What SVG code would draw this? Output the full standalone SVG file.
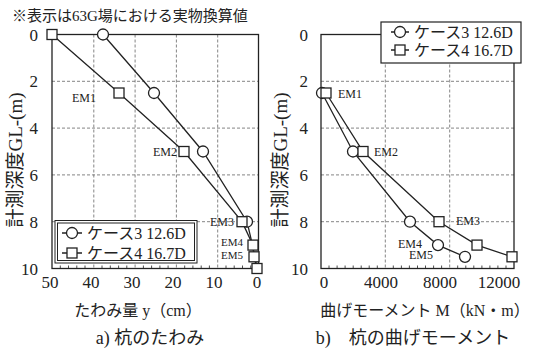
<svg xmlns="http://www.w3.org/2000/svg" width="536" height="351" viewBox="0 0 536 351">
<style>
text{font-family:"Liberation Serif","Noto Sans CJK JP",serif;fill:#222}
.frame{fill:none;stroke:#222;stroke-width:1.3}
.grid{fill:none;stroke:#666;stroke-width:0.8;stroke-dasharray:3 2}
.ser{fill:none;stroke:#222;stroke-width:1.3}
.c{fill:#fff;stroke:#222;stroke-width:1.3}
.s{fill:#fff;stroke:#222;stroke-width:1.3}
.tick{font-size:17px}
.em{font-size:12px}
.em2{font-size:11px}
.leg{font-size:16px}
.tk{stroke:#222;stroke-width:0.8}
</style>
<defs>
<circle id="mc" r="5.5" class="c"/>
<rect id="ms" x="-5" y="-5" width="10" height="10" class="s"/>
</defs>
<rect width="536" height="351" fill="#fff"/>
<text x="12" y="20.5" style="font-size:15px">※表示は63G場における実物換算値</text>

<g id="plotA">
<g id="gridA">
<path class="grid" d="M93.8 34.5V268.5M135.1 34.5V268.5M176.4 34.5V268.5M217.7 34.5V268.5M52 81.3H258.5M52 128.1H258.5M52 174.9H258.5M52 221.7H258.5"/>
</g>
<rect class="frame" x="52" y="34.5" width="206.5" height="234"/>
<path class="tk" d="M60.3 268.5v-3M68.5 268.5v-3M76.8 268.5v-3M85.0 268.5v-3M102 268.5v-3M110.3 268.5v-3M118.6 268.5v-3M126.8 268.5v-3M143.4 268.5v-3M151.6 268.5v-3M159.9 268.5v-3M168.1 268.5v-3M184.7 268.5v-3M192.9 268.5v-3M201.2 268.5v-3M209.4 268.5v-3M226 268.5v-3M234.2 268.5v-3M242.5 268.5v-3M250.7 268.5v-3"/>
<g id="yticksA" class="tick" text-anchor="end">
<text x="38" y="40.5">0</text>
<text x="38" y="87.3">2</text>
<text x="38" y="134.1">4</text>
<text x="38" y="180.9">6</text>
<text x="38" y="227.7">8</text>
<text x="38" y="274.5">10</text>
</g>
<g id="xticksA" class="tick" text-anchor="middle">
<text x="50" y="288">50</text>
<text x="91" y="288">40</text>
<text x="132" y="288">30</text>
<text x="173" y="288">20</text>
<text x="214" y="288">10</text>
<text x="257" y="288">0</text>
</g>
<text transform="translate(22,160) rotate(-90)" text-anchor="middle" style="font-size:19px">計測深度GL-(m)</text>
<text x="138" y="316" text-anchor="middle" style="font-size:16px">たわみ量 y（cm）</text>
<text x="150" y="344" text-anchor="middle" style="font-size:18px">a) 杭のたわみ</text>

<g id="connectorsA">
<polyline class="ser" points="103,34.5 154,93 203,151.5 247,221.7 252.5,245.1 254.5,256.8 257.5,268.5"/>
<polyline class="ser" points="52,34.5 119,93 184,151.5 242,221.7 253,245.1 254,256.8 257,268.5"/>
</g>
<g id="case3A">
<use href="#mc" x="103" y="34.5"/>
<use href="#mc" x="154" y="93"/>
<use href="#mc" x="203" y="151.5"/>
<use href="#mc" x="247" y="221.7"/>
</g>
<g id="case4A">
<use href="#ms" x="52" y="34.5"/>
<use href="#ms" x="119" y="93"/>
<use href="#ms" x="184" y="151.5"/>
<use href="#ms" x="242" y="221.7"/>
<use href="#ms" x="253" y="245.1"/>
<use href="#ms" x="254" y="256.8"/>
<use href="#ms" x="257" y="268.5"/>
</g>
<g id="emA" class="em" text-anchor="end">
<text x="96" y="101.5">EM1</text>
<text x="177" y="156">EM2</text>
<text x="234" y="225.5">EM3</text>
<text class="em2" x="243" y="245.5">EM4</text>
<text class="em2" x="243" y="258.5">EM5</text>
</g>
<g id="legendA">
<rect x="55" y="220.5" width="142" height="42.5" fill="#fff" stroke="#222" stroke-width="1"/>
<rect x="57.5" y="223" width="137" height="37.5" fill="none" stroke="#222" stroke-width="1"/>
<path class="ser" d="M62 233H82M62 253H82"/>
<use href="#mc" x="72" y="233"/>
<use href="#ms" x="72" y="253"/>
<text class="leg" x="87" y="238.5">ケース3 12.6D</text>
<text class="leg" x="87" y="258.5">ケース4 16.7D</text>
</g>
</g>

<g id="plotB">
<g id="gridB">
<path class="grid" d="M385.3 34.5V268.5M449.7 34.5V268.5M321 81.3H514M321 128.1H514M321 174.9H514M321 221.7H514"/>
</g>
<rect class="frame" x="321" y="34.5" width="193" height="234"/>
<path class="tk" d="M329 268.5v-3M337.1 268.5v-3M345.1 268.5v-3M353.2 268.5v-3M361.2 268.5v-3M369.2 268.5v-3M377.3 268.5v-3M393.3 268.5v-3M401.4 268.5v-3M409.4 268.5v-3M417.5 268.5v-3M425.5 268.5v-3M433.6 268.5v-3M441.6 268.5v-3M457.7 268.5v-3M465.8 268.5v-3M473.8 268.5v-3M481.9 268.5v-3M489.9 268.5v-3M497.9 268.5v-3M506 268.5v-3"/>
<g id="yticksB" class="tick" text-anchor="end">
<text x="308" y="40.5">0</text>
<text x="308" y="87.3">2</text>
<text x="308" y="134.1">4</text>
<text x="308" y="180.9">6</text>
<text x="308" y="227.7">8</text>
<text x="308" y="274.5">10</text>
</g>
<g id="xticksB" class="tick" text-anchor="middle">
<text x="324" y="288">0</text>
<text x="381" y="288">4000</text>
<text x="440" y="288">8000</text>
<text x="499" y="288">12000</text>
</g>
<text transform="translate(287,160) rotate(-90)" text-anchor="middle" style="font-size:19px">計測深度GL-(m)</text>
<text x="425" y="316" text-anchor="middle" style="font-size:16px">曲げモーメント M（kN・m）</text>
<text x="413" y="344" text-anchor="middle" style="font-size:18px">b)　杭の曲げモーメント</text>

<g id="connectorsB">
<polyline class="ser" points="322,93 353,151.5 410,221.7 438,245.1 465,256.8"/>
<polyline class="ser" points="326,93 363,151.5 439,221.7 477,245.1 512,256.8"/>
</g>
<g id="case3B">
<use href="#mc" x="322" y="93"/>
<use href="#mc" x="353" y="151.5"/>
<use href="#mc" x="410" y="221.7"/>
<use href="#mc" x="438" y="245.1"/>
<use href="#mc" x="465" y="256.8"/>
</g>
<g id="case4B">
<use href="#ms" x="326" y="93"/>
<use href="#ms" x="363" y="151.5"/>
<use href="#ms" x="439" y="221.7"/>
<use href="#ms" x="477" y="245.1"/>
<use href="#ms" x="512" y="256.8"/>
</g>
<g id="emB" class="em">
<text x="338" y="97.5">EM1</text>
<text x="374" y="156">EM2</text>
<text x="456" y="224.5">EM3</text>
<text x="422" y="247.5" text-anchor="end">EM4</text>
<text x="433" y="259" text-anchor="end">EM5</text>
</g>
<g id="legendB">
<rect x="381" y="22" width="140" height="41" fill="#fff" stroke="#222" stroke-width="1.2"/>
<path class="ser" d="M391 32H409M391 50H409"/>
<use href="#mc" x="400" y="32"/>
<use href="#ms" x="400" y="50"/>
<text class="leg" x="414" y="37.5">ケース3 12.6D</text>
<text class="leg" x="414" y="55.5">ケース4 16.7D</text>
</g>
</g>
</svg>
